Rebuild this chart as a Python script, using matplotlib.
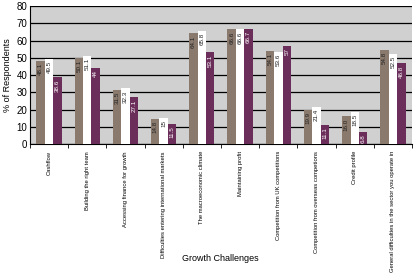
import numpy as np
import matplotlib
matplotlib.use('Agg')
import matplotlib.pyplot as plt

plt.rcParams['font.family'] = ['Liberation Sans Narrow', 'Liberation Sans', 'DejaVu Sans']

categories = ['Cashflow', 'Building the right team', 'Accessing finance for growth',
              'Difficulties entering international markets', 'The macroeconomic climate',
              'Maintaining profit', 'Competition from UK competitions',
              'Competition from overseas competions', 'Credit profile',
              'General difficulties in the sector you operate in']
series_a = [48.1, 50.1, 31.5, 14.8, 64.1, 66.6, 54.1, 19.9, 16.0, 54.8]
series_b = [49.5, 51.1, 32.3, 15, 65.8, 66.6, 53.6, 21.4, 18.5, 52.5]
series_c = [38.6, 44, 27.1, 11.5, 53.1, 66.7, 57, 11.1, 6.8, 46.8]
yticks = [0, 10, 20, 30, 40, 50, 60, 70, 80]

colors = ['#8a7a6e', '#ffffff', '#6b2d5a']
txtcol = ['#222222', '#222222', '#ffffff']

fig = plt.figure(figsize=(4.15, 2.76), dpi=100)
ax = fig.add_axes([0.072, 0.478, 0.921, 0.5])
ax.set_facecolor('#d0d0d0')

x = np.arange(len(categories))
w = 0.22
for k, (vals, c, tc) in enumerate(zip([series_a, series_b, series_c], colors, txtcol)):
    xs = x + (k - 1) * w
    ax.bar(xs, vals, width=w, color=c, edgecolor='none', zorder=3)
    for xi, v in zip(xs, vals):
        lab = ('%g' % v) if v != 16.0 else '16.0'
        ax.text(xi, v - 1.2, lab, rotation=90, ha='center', va='top',
                fontsize=4.5, color=tc, zorder=4)

ax.set_ylim(0, 80)
ax.set_xlim(-0.5, len(categories) - 0.5)
ax.set_yticks(yticks)
ax.tick_params(axis='y', labelsize=7, length=0, pad=2)
ax.yaxis.grid(True, color='black', linewidth=0.9, zorder=1)
ax.set_axisbelow(True)

ax.set_xticks(x)
ax.set_xticklabels(categories, rotation=90, fontsize=4.2, va='top', ha='center')
ax.tick_params(axis='x', length=0, pad=5)
ax.set_xticks(np.arange(len(categories) + 1) - 0.5, minor=True)
ax.tick_params(axis='x', which='minor', length=3, direction='out', color='black')

for s in ['top', 'right']:
    ax.spines[s].set_visible(False)
ax.spines['left'].set_color('black')
ax.spines['bottom'].set_color('black')

ax.set_ylabel('% of Respondents', fontsize=6.5, labelpad=3)
fig.text(0.53, 0.062, 'Growth Challenges', fontsize=6.5, ha='center', va='center')

plt.savefig('out.png', dpi=100)
